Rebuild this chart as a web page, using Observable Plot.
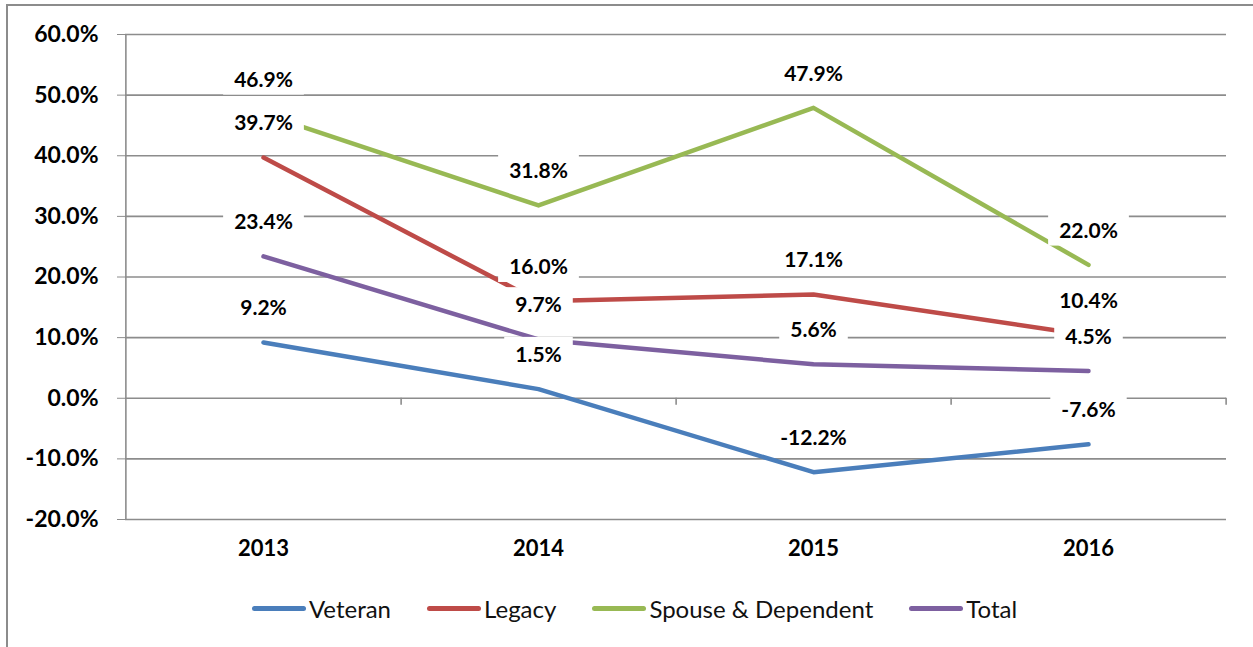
<!DOCTYPE html>
<html>
<head>
<meta charset="utf-8">
<script src="https://cdn.jsdelivr.net/npm/d3@7"></script>
<script src="https://cdn.jsdelivr.net/npm/@observablehq/plot@0.6"></script>
<style>
  html, body { margin: 0; padding: 0; background: #fff; }
  #wrap { position: relative; width: 1253px; height: 647px; overflow: hidden; font-family: Lato, "Open Sans", sans-serif; }
  #border { position: absolute; left: 6px; top: 4px; right: -4px; bottom: -4px; border-left: 2px solid #8c8c8c; border-top: 2px solid #8c8c8c; }
  #chart { position: absolute; left: 0; top: 0; }
  #legend { position: absolute; left: 16px; right: 0; top: 594px; height: 28px; display: flex; justify-content: center; align-items: center; gap: 36px; font-size: 24px; color: #111; }
  .item { display: flex; align-items: center; }
  .swatch { display: inline-block; width: 54px; height: 5px; border-radius: 3px; margin-right: 3px; }
</style>
</head>
<body>
<div id="wrap">
  <div id="border"></div>
  <div id="chart"></div>
  <div id="legend"></div>
</div>
<script>
// ---- data ----
const years = ["2013", "2014", "2015", "2016"];
const seriesNames = ["Veteran", "Legacy", "Spouse & Dependent", "Total"];
const veteran = [9.2, 1.5, -12.2, -7.6];
const legacy = [39.7, 16.0, 17.1, 10.4];
const spouse = [46.9, 31.8, 47.9, 22.0];
const total = [23.4, 9.7, 5.6, 4.5];
const yTicks = [-20, -10, 0, 10, 20, 30, 40, 50, 60];
const seriesColors = ["#4A7EBB", "#BE4B48", "#98B954", "#7D60A0"];

// ---- layout ----
const W = 1253, H = 580, mL = 125, mR = 27, mT = 34, mB = 61;
const step = (W - mL - mR) / years.length;
const grid = "#8c8c8c";

const valuesBySeries = [veteran, legacy, spouse, total];
const rows = seriesNames.flatMap((s, i) =>
  years.map((y, j) => ({series: s, year: y, value: valuesBySeries[i][j]})));

const chart = Plot.plot({
  width: W, height: H,
  marginLeft: mL, marginRight: mR, marginTop: mT, marginBottom: mB,
  style: {fontFamily: "Lato, 'Open Sans', sans-serif", background: "transparent"},
  x: {type: "point", domain: years, padding: 0.5, label: null, axis: null},
  y: {domain: [-20, 60], label: null, axis: null},
  color: {domain: seriesNames, range: seriesColors},
  marks: [
    Plot.gridY(yTicks, {stroke: grid, strokeOpacity: 1, strokeWidth: 1.6}),
    Plot.ruleX([years[0]], {x: d => d, y1: -20, y2: 60, dx: -step / 2, stroke: grid, strokeWidth: 1.6}),
    Plot.ruleX(years, {x: d => d, y1: 0, y2: 0, insetBottom: -7, dx: step / 2, stroke: grid, strokeWidth: 1.6}),
    Plot.axisY({ticks: yTicks, tickFormat: d => d.toFixed(1) + "%", tickSize: 8, tickPadding: 19,
      fontSize: 23, fontWeight: "bold", stroke: grid, fill: "#000", label: null}),
    Plot.axisX({tickSize: 0, tickPadding: 21, fontSize: 22, fontWeight: "bold", fill: "#000", label: null}),
    Plot.line(rows, {x: "year", y: "value", z: "series", stroke: "series",
      strokeWidth: 4.5, strokeLinecap: "round", strokeLinejoin: "round"}),
    Plot.text(rows, {x: "year", y: "value", text: d => d.value.toFixed(1) + "%", dy: -34,
      fontSize: 21, fontWeight: "bold", fill: "#000"})
  ]
});

document.getElementById("chart").appendChild(chart);

// white boxes behind data labels (Excel-style label backgrounds)
chart.querySelectorAll('g[aria-label="text"] text').forEach(t => {
  const bb = t.getBBox();
  const r = document.createElementNS("http://www.w3.org/2000/svg", "rect");
  r.setAttribute("x", bb.x - 11);
  r.setAttribute("y", bb.y - 4);
  r.setAttribute("width", bb.width + 22);
  r.setAttribute("height", bb.height + 8);
  r.setAttribute("fill", "#fff");
  if (t.getAttribute("transform")) r.setAttribute("transform", t.getAttribute("transform"));
  t.parentNode.insertBefore(r, t);
});

// legend
const legend = document.getElementById("legend");
seriesNames.forEach((s, i) => {
  const item = document.createElement("div");
  item.className = "item";
  const sw = document.createElement("span");
  sw.className = "swatch";
  sw.style.background = seriesColors[i];
  const lab = document.createElement("span");
  lab.textContent = s;
  item.appendChild(sw);
  item.appendChild(lab);
  legend.appendChild(item);
});
</script>
</body>
</html>
